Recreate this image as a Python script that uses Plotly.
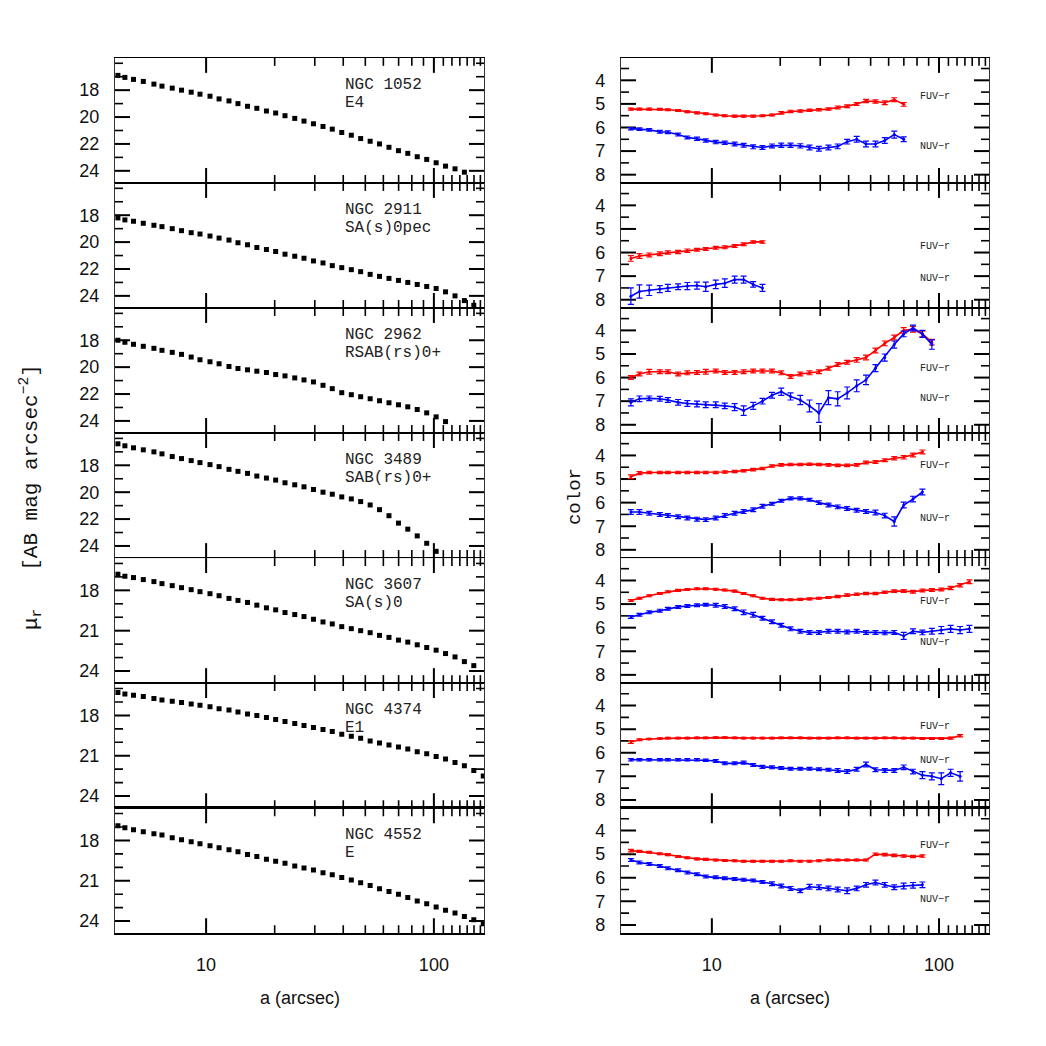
import plotly.graph_objects as go

# ---------------- data ----------------
radii = [4.1, 4.4, 4.8, 5.3, 5.9, 6.4, 7.1, 7.8, 8.6, 9.4, 10.4, 11.4, 12.6, 13.8, 15.2,
         16.7, 18.4, 20.2, 22.2, 24.5, 26.9, 29.6, 32.6, 35.8, 39.4, 43.4, 47.7, 52.5,
         57.7, 63.5, 69.9, 76.8, 84.5, 93.0, 102.3, 112.5, 123.8, 136.1, 149.7, 164.7]

galaxies = ["NGC 1052", "NGC 2911", "NGC 2962", "NGC 3489", "NGC 3607", "NGC 4374", "NGC 4552"]
morph = ["E4", "SA(s)0pec", "RSAB(rs)0+", "SAB(rs)0+", "SA(s)0", "E1", "E"]

mu_1052 = [16.9, 17.05, 17.2, 17.35, 17.55, 17.7, 17.85, 18.0, 18.15, 18.3, 18.45, 18.65, 18.8,
           19.0, 19.2, 19.35, 19.55, 19.7, 19.9, 20.1, 20.3, 20.5, 20.7, 20.9, 21.15, 21.35,
           21.6, 21.8, 22.0, 22.25, 22.5, 22.7, 22.95, 23.15, 23.4, 23.65, 23.85, 24.1]
mu_2911 = [18.2, 18.35, 18.45, 18.6, 18.75, 18.85, 19.0, 19.15, 19.3, 19.4, 19.55, 19.7, 19.85,
           20.05, 20.2, 20.4, 20.55, 20.7, 20.9, 21.05, 21.2, 21.4, 21.55, 21.75, 21.9, 22.05,
           22.2, 22.4, 22.55, 22.7, 22.85, 23.0, 23.15, 23.3, 23.45, 23.7, 24.0, 24.35, 24.7]
mu_2962 = [18.0, 18.15, 18.3, 18.45, 18.6, 18.75, 18.9, 19.05, 19.25, 19.45, 19.6, 19.75, 19.95,
           20.1, 20.2, 20.3, 20.4, 20.55, 20.65, 20.8, 20.95, 21.1, 21.35, 21.6, 21.9, 22.05,
           22.2, 22.35, 22.5, 22.65, 22.8, 22.95, 23.15, 23.4, 23.7, 24.05]
mu_3489 = [16.4, 16.55, 16.7, 16.85, 17.0, 17.15, 17.35, 17.5, 17.65, 17.8, 17.95, 18.1, 18.3,
           18.45, 18.6, 18.8, 18.95, 19.1, 19.3, 19.45, 19.6, 19.8, 20.0, 20.15, 20.35, 20.5,
           20.7, 20.95, 21.3, 21.75, 22.3, 22.75, 23.25, 23.8, 24.4]
mu_3607 = [16.8, 16.95, 17.05, 17.2, 17.35, 17.5, 17.65, 17.8, 17.95, 18.1, 18.25, 18.4, 18.6,
           18.75, 18.9, 19.1, 19.3, 19.45, 19.65, 19.8, 19.95, 20.15, 20.35, 20.5, 20.7, 20.85,
           21.0, 21.15, 21.35, 21.5, 21.7, 21.85, 22.05, 22.25, 22.45, 22.7, 22.95, 23.3, 23.6]
mu_4374 = [16.3, 16.4, 16.5, 16.6, 16.75, 16.85, 16.95, 17.05, 17.15, 17.25, 17.35, 17.5, 17.6,
           17.75, 17.9, 18.0, 18.15, 18.3, 18.45, 18.6, 18.75, 18.9, 19.05, 19.2, 19.4, 19.55,
           19.7, 19.9, 20.05, 20.2, 20.35, 20.5, 20.7, 20.85, 21.05, 21.25, 21.5, 21.75, 22.1, 22.5]
mu_4552 = [16.9, 17.05, 17.2, 17.35, 17.5, 17.6, 17.8, 17.95, 18.1, 18.25, 18.4, 18.55, 18.7,
           18.85, 19.05, 19.2, 19.4, 19.55, 19.7, 19.9, 20.05, 20.2, 20.4, 20.55, 20.75, 20.95,
           21.15, 21.35, 21.6, 21.8, 22.0, 22.25, 22.5, 22.7, 22.95, 23.2, 23.4, 23.65, 23.9, 24.2]

# colour profiles start at the second radius
fuv_1052 = [5.22, 5.22, 5.22, 5.23, 5.25, 5.28, 5.33, 5.38, 5.42, 5.47, 5.5, 5.52, 5.52, 5.52, 5.5,
            5.47, 5.38, 5.32, 5.3, 5.27, 5.25, 5.22, 5.15, 5.1, 5.0, 4.88, 4.9, 4.95, 4.82, 5.02]
fuv_err_1052 = [0.04, 0.04, 0.04, 0.04, 0.04, 0.04, 0.04, 0.04, 0.04, 0.04, 0.04, 0.04, 0.04, 0.04,
                0.04, 0.04, 0.05, 0.05, 0.05, 0.05, 0.05, 0.05, 0.06, 0.06, 0.06, 0.07, 0.07, 0.08,
                0.08, 0.08]
nuv_1052 = [6.05, 6.07, 6.1, 6.18, 6.2, 6.3, 6.42, 6.48, 6.55, 6.62, 6.65, 6.7, 6.75, 6.82, 6.85,
            6.78, 6.75, 6.75, 6.78, 6.85, 6.9, 6.85, 6.8, 6.6, 6.5, 6.7, 6.7, 6.55, 6.3, 6.5]
nuv_err_1052 = [0.05, 0.05, 0.05, 0.06, 0.06, 0.06, 0.06, 0.07, 0.07, 0.07, 0.07, 0.08, 0.08, 0.08,
                0.08, 0.08, 0.09, 0.09, 0.09, 0.1, 0.1, 0.1, 0.1, 0.1, 0.12, 0.12, 0.12, 0.12,
                0.15, 0.1]

fuv_2911 = [6.25, 6.15, 6.1, 6.05, 6.0, 5.98, 5.92, 5.88, 5.85, 5.8, 5.78, 5.72, 5.65, 5.55, 5.55]
fuv_err_2911 = [0.12, 0.1, 0.08, 0.08, 0.07, 0.07, 0.07, 0.06, 0.06, 0.06, 0.06, 0.06, 0.06, 0.05, 0.05]
nuv_2911 = [7.85, 7.65, 7.6, 7.55, 7.5, 7.45, 7.42, 7.4, 7.45, 7.35, 7.3, 7.15, 7.15, 7.35, 7.5]
nuv_err_2911 = [0.35, 0.28, 0.22, 0.15, 0.15, 0.12, 0.15, 0.15, 0.2, 0.18, 0.18, 0.15, 0.15, 0.12, 0.15]

fuv_2962 = [6.0, 5.85, 5.75, 5.75, 5.75, 5.85, 5.8, 5.78, 5.75, 5.72, 5.78, 5.78, 5.75, 5.72, 5.72,
            5.72, 5.8, 5.95, 5.85, 5.8, 5.75, 5.6, 5.45, 5.35, 5.25, 5.15, 4.85, 4.55, 4.3, 4.0,
            3.95, 4.15, 4.5]
fuv_err_2962 = [0.08, 0.08, 0.1, 0.08, 0.08, 0.08, 0.08, 0.08, 0.1, 0.08, 0.08, 0.08, 0.08, 0.08,
                0.08, 0.08, 0.08, 0.08, 0.08, 0.08, 0.08, 0.08, 0.08, 0.08, 0.1, 0.1, 0.1, 0.1,
                0.1, 0.12, 0.12, 0.12, 0.12]
nuv_2962 = [7.05, 6.9, 6.88, 6.9, 6.95, 7.05, 7.1, 7.12, 7.15, 7.15, 7.2, 7.25, 7.4, 7.2, 7.0,
            6.75, 6.6, 6.8, 6.95, 7.2, 7.5, 6.85, 6.9, 6.65, 6.35, 6.1, 5.6, 5.15, 4.6, 4.15,
            3.9, 4.15, 4.6]
nuv_err_2962 = [0.15, 0.12, 0.1, 0.1, 0.1, 0.12, 0.12, 0.12, 0.12, 0.12, 0.12, 0.15, 0.2, 0.15,
                0.12, 0.12, 0.15, 0.15, 0.2, 0.25, 0.4, 0.3, 0.3, 0.25, 0.25, 0.2, 0.15, 0.15,
                0.15, 0.12, 0.12, 0.15, 0.2]

fuv_3489 = [4.9, 4.75, 4.72, 4.72, 4.72, 4.72, 4.72, 4.72, 4.72, 4.72, 4.7, 4.68, 4.65, 4.6, 4.55,
            4.45, 4.4, 4.38, 4.38, 4.37, 4.38, 4.4, 4.42, 4.42, 4.4, 4.3, 4.28, 4.2, 4.12, 4.08,
            3.98, 3.85]
fuv_err_3489 = [0.08, 0.06, 0.05, 0.05, 0.05, 0.05, 0.05, 0.05, 0.05, 0.05, 0.05, 0.05, 0.05, 0.05,
                0.05, 0.05, 0.05, 0.05, 0.05, 0.05, 0.05, 0.05, 0.05, 0.05, 0.05, 0.06, 0.06, 0.06,
                0.07, 0.07, 0.08, 0.08]
nuv_3489 = [6.4, 6.4, 6.45, 6.5, 6.55, 6.6, 6.65, 6.7, 6.72, 6.65, 6.55, 6.45, 6.38, 6.3, 6.15,
            6.05, 5.92, 5.82, 5.82, 5.88, 6.0, 6.1, 6.18, 6.25, 6.32, 6.38, 6.42, 6.55, 6.8, 6.1,
            5.85, 5.55]
nuv_err_3489 = [0.1, 0.1, 0.08, 0.08, 0.08, 0.08, 0.08, 0.08, 0.08, 0.08, 0.08, 0.08, 0.08, 0.08,
                0.08, 0.06, 0.06, 0.06, 0.06, 0.06, 0.08, 0.08, 0.08, 0.08, 0.08, 0.08, 0.1, 0.1,
                0.2, 0.12, 0.12, 0.12]

fuv_3607 = [4.85, 4.75, 4.65, 4.55, 4.48, 4.42, 4.38, 4.35, 4.35, 4.37, 4.4, 4.45, 4.55, 4.65,
            4.75, 4.8, 4.82, 4.82, 4.8, 4.78, 4.75, 4.72, 4.68, 4.62, 4.58, 4.55, 4.55, 4.5, 4.45,
            4.45, 4.48, 4.42, 4.4, 4.38, 4.32, 4.2, 4.05]
fuv_err_3607 = [0.04, 0.04, 0.04, 0.04, 0.04, 0.04, 0.04, 0.04, 0.04, 0.04, 0.04, 0.04, 0.04, 0.04,
                0.04, 0.04, 0.04, 0.04, 0.04, 0.04, 0.04, 0.04, 0.05, 0.05, 0.05, 0.05, 0.05, 0.05,
                0.05, 0.06, 0.06, 0.06, 0.06, 0.06, 0.07, 0.07, 0.08]
nuv_3607 = [5.55, 5.45, 5.35, 5.28, 5.2, 5.12, 5.08, 5.05, 5.03, 5.05, 5.1, 5.2, 5.35, 5.45, 5.6,
            5.75, 5.9, 6.05, 6.15, 6.2, 6.2, 6.15, 6.15, 6.18, 6.15, 6.2, 6.2, 6.22, 6.2, 6.35,
            6.15, 6.2, 6.15, 6.1, 6.05, 6.1, 6.05]
nuv_err_3607 = [0.06, 0.06, 0.06, 0.06, 0.06, 0.06, 0.06, 0.06, 0.06, 0.08, 0.08, 0.08, 0.1, 0.1,
                0.08, 0.08, 0.08, 0.08, 0.08, 0.08, 0.08, 0.08, 0.08, 0.08, 0.08, 0.08, 0.08, 0.08,
                0.08, 0.15, 0.1, 0.1, 0.12, 0.15, 0.15, 0.15, 0.15]

fuv_4374 = [5.55, 5.45, 5.42, 5.4, 5.38, 5.38, 5.38, 5.37, 5.37, 5.36, 5.36, 5.37, 5.38, 5.38, 5.38,
            5.38, 5.37, 5.37, 5.37, 5.38, 5.38, 5.38, 5.37, 5.37, 5.38, 5.38, 5.38, 5.37, 5.37,
            5.38, 5.38, 5.4, 5.4, 5.4, 5.38, 5.28]
fuv_err_4374 = [0.06, 0.04, 0.03, 0.03, 0.03, 0.03, 0.03, 0.03, 0.03, 0.03, 0.03, 0.03, 0.03, 0.03,
                0.03, 0.03, 0.03, 0.03, 0.03, 0.03, 0.03, 0.03, 0.03, 0.03, 0.03, 0.03, 0.03, 0.03,
                0.03, 0.03, 0.03, 0.04, 0.04, 0.04, 0.04, 0.05]
nuv_4374 = [6.3, 6.3, 6.3, 6.3, 6.3, 6.3, 6.3, 6.3, 6.32, 6.35, 6.45, 6.45, 6.42, 6.52, 6.6, 6.62,
            6.65, 6.68, 6.68, 6.68, 6.7, 6.72, 6.75, 6.8, 6.7, 6.5, 6.72, 6.75, 6.75, 6.62, 6.8,
            6.95, 7.0, 7.1, 6.85, 7.0]
nuv_err_4374 = [0.05, 0.05, 0.05, 0.05, 0.05, 0.05, 0.05, 0.05, 0.05, 0.06, 0.06, 0.06, 0.06, 0.06,
                0.06, 0.06, 0.06, 0.06, 0.06, 0.06, 0.06, 0.06, 0.08, 0.08, 0.08, 0.1, 0.08, 0.08,
                0.08, 0.1, 0.1, 0.15, 0.15, 0.25, 0.15, 0.2]

fuv_4552 = [4.85, 4.88, 4.92, 4.98, 5.02, 5.1, 5.15, 5.2, 5.22, 5.25, 5.27, 5.28, 5.3, 5.3, 5.3,
            5.3, 5.3, 5.28, 5.3, 5.3, 5.28, 5.25, 5.25, 5.25, 5.25, 5.25, 5.0, 5.02, 5.05, 5.08,
            5.1, 5.08]
fuv_err_4552 = [0.05, 0.04, 0.04, 0.04, 0.04, 0.04, 0.04, 0.04, 0.04, 0.04, 0.04, 0.04, 0.04, 0.04,
                0.04, 0.04, 0.04, 0.04, 0.04, 0.04, 0.04, 0.04, 0.04, 0.04, 0.04, 0.04, 0.05, 0.05,
                0.05, 0.05, 0.05, 0.05]
nuv_4552 = [5.25, 5.35, 5.42, 5.5, 5.6, 5.68, 5.78, 5.85, 5.95, 5.98, 6.02, 6.05, 6.08, 6.12, 6.18,
            6.25, 6.35, 6.45, 6.55, 6.38, 6.4, 6.45, 6.5, 6.55, 6.45, 6.3, 6.2, 6.3, 6.4, 6.35,
            6.32, 6.3]
nuv_err_4552 = [0.06, 0.06, 0.06, 0.06, 0.06, 0.06, 0.06, 0.06, 0.06, 0.06, 0.06, 0.06, 0.06, 0.06,
                0.06, 0.08, 0.08, 0.08, 0.08, 0.1, 0.1, 0.1, 0.1, 0.12, 0.1, 0.1, 0.1, 0.1, 0.1,
                0.12, 0.12, 0.12]

mu_profiles = [mu_1052, mu_2911, mu_2962, mu_3489, mu_3607, mu_4374, mu_4552]
fuv_profiles = [fuv_1052, fuv_2911, fuv_2962, fuv_3489, fuv_3607, fuv_4374, fuv_4552]
fuv_errors = [fuv_err_1052, fuv_err_2911, fuv_err_2962, fuv_err_3489, fuv_err_3607, fuv_err_4374, fuv_err_4552]
nuv_profiles = [nuv_1052, nuv_2911, nuv_2962, nuv_3489, nuv_3607, nuv_4374, nuv_4552]
nuv_errors = [nuv_err_1052, nuv_err_2911, nuv_err_2962, nuv_err_3489, nuv_err_3607, nuv_err_4374, nuv_err_4552]

# label heights (colour units) for FUV-r / NUV-r tags
fuv_label_y = [4.7, 5.74, 5.6, 4.42, 4.9, 4.91, 4.62]
nuv_label_y = [6.8, 7.1, 6.9, 6.67, 6.64, 6.32, 6.92]

mu_ticks_a = [18, 20, 22, 24]
mu_minor_a = [16, 17, 19, 21, 23]
mu_ticks_b = [18, 21, 24]
mu_minor_b = [16, 17, 19, 20, 22, 23]
color_ticks = [4, 5, 6, 7, 8]
color_minor = [3.5, 4.5, 5.5, 6.5, 7.5]
x_major = [10, 100]
x_minor = [20, 30, 40, 50, 60, 70, 80, 90, 110, 120, 130, 140, 150, 160]

# ---------------- layout geometry (pixels) ----------------
W = H = 1046
LX0, LX1 = 115, 484
RX0, RX1 = 621, 989
TOP, BOT = 58, 935
NROW = 7
ROWH = (BOT - TOP) / NROW
XLOG = [0.6, 2.22]
MU_RANGE = [24.9, 15.6]
COLOR_RANGE = [8.35, 3.05]

AX = "#000000"
FONT_SANS = "Liberation Sans"
FONT_MONO = "Liberation Mono"


def px_x(p):
    return p / W


def px_y(p):
    return 1 - p / H


def axkey(prefix, n):
    return f"{prefix}axis" if n == 1 else f"{prefix}axis{n}"


def axref(prefix, n):
    return prefix if n == 1 else f"{prefix}{n}"


def tick_trace(xa, ya, yrange, width_px, xvals, yvals, length, lw):
    """Inside tick marks drawn as line segments (bottom/top and left/right)."""
    per_px_y = (yrange[0] - yrange[1]) / ROWH       # data units per pixel (y)
    per_px_x = (XLOG[1] - XLOG[0]) / width_px        # decades per pixel (x)
    xs, ys = [], []
    for v in xvals:
        xs += [v, v, None, v, v, None]
        ys += [yrange[0], yrange[0] - length * per_px_y, None,
               yrange[1], yrange[1] + length * per_px_y, None]
    xl0, xl1 = 10 ** XLOG[0], 10 ** (XLOG[0] + length * per_px_x)
    xr0, xr1 = 10 ** XLOG[1], 10 ** (XLOG[1] - length * per_px_x)
    for v in yvals:
        xs += [xl0, xl1, None, xr0, xr1, None]
        ys += [v, v, None, v, v, None]
    return go.Scatter(x=xs, y=ys, xaxis=xa, yaxis=ya, mode="lines",
                      line=dict(color=AX, width=lw), showlegend=False,
                      hoverinfo="skip", connectgaps=False)


fig = go.Figure()
layout = {}
annotations = []

for i in range(NROW):
    top_px = TOP + i * ROWH
    bot_px = top_px + ROWH
    ydom = [px_y(bot_px), px_y(top_px)]
    for side in (0, 1):
        n = 2 * i + 1 + side
        xa, ya = axref("x", n), axref("y", n)
        xdom = [px_x(LX0), px_x(LX1)] if side == 0 else [px_x(RX0), px_x(RX1)]
        width_px = (LX1 - LX0) if side == 0 else (RX1 - RX0)
        bottom_row = (i == NROW - 1)
        layout[axkey("x", n)] = dict(
            type="log", range=XLOG, domain=xdom, anchor=ya,
            showline=True, linecolor=AX, linewidth=1.5 if bottom_row else 1.0,
            mirror=True, ticks="",
            tickvals=x_major, showticklabels=bottom_row,
            tickfont=dict(family=FONT_SANS, size=18, color="#111"),
            ticklabelstandoff=14,
            showgrid=False, zeroline=False,
        )
        if side == 0:
            tv = mu_ticks_a if i < 4 else mu_ticks_b
            mv = mu_minor_a if i < 4 else mu_minor_b
            yrange = MU_RANGE
        else:
            tv = color_ticks
            mv = color_minor
            yrange = COLOR_RANGE
        layout[axkey("y", n)] = dict(
            range=yrange, domain=ydom, anchor=xa,
            showline=True, linecolor="#333", linewidth=1.2,
            mirror=True, ticks="",
            tickvals=tv,
            tickfont=dict(family=FONT_SANS, size=18, color="#111"),
            ticklabelstandoff=11,
            showgrid=False, zeroline=False,
        )

        # tick marks (major + minor), inside on all four sides
        fig.add_trace(tick_trace(xa, ya, yrange, width_px, x_major, tv, 15, 2.0))
        fig.add_trace(tick_trace(xa, ya, yrange, width_px, x_minor, mv, 8, 1.6))

        if side == 0:
            mu = mu_profiles[i]
            fig.add_trace(go.Scatter(
                x=radii[:len(mu)], y=mu, xaxis=xa, yaxis=ya, mode="markers",
                marker=dict(symbol="square", size=5, color="black"),
                showlegend=False, hoverinfo="skip"))
            for txt, off in ((galaxies[i], 27), (morph[i], 45)):
                annotations.append(dict(
                    text=txt, xref=f"{xa} domain", yref=f"{ya} domain",
                    x=(343 - LX0) / (LX1 - LX0), y=1 - off / ROWH,
                    xanchor="left", yanchor="middle", showarrow=False,
                    font=dict(family=FONT_MONO, size=16, color="#222")))
        else:
            f, fe = fuv_profiles[i], fuv_errors[i]
            nv, ne = nuv_profiles[i], nuv_errors[i]
            fig.add_trace(go.Scatter(
                x=radii[1:1 + len(f)], y=f, xaxis=xa, yaxis=ya, mode="lines+markers",
                line=dict(color="#ff0000", width=1.6), marker=dict(size=3, color="#ff0000"),
                error_y=dict(type="data", array=fe, color="#ff0000", thickness=1.2, width=3),
                showlegend=False, hoverinfo="skip"))
            fig.add_trace(go.Scatter(
                x=radii[1:1 + len(nv)], y=nv, xaxis=xa, yaxis=ya, mode="lines+markers",
                line=dict(color="#0000ff", width=1.6), marker=dict(size=3, color="#0000ff"),
                error_y=dict(type="data", array=ne, color="#0000ff", thickness=1.2, width=3),
                showlegend=False, hoverinfo="skip"))
            lx = (918 - RX0) / (RX1 - RX0)
            for txt, yy in (("FUV\u2212r", fuv_label_y[i]), ("NUV\u2212r", nuv_label_y[i])):
                annotations.append(dict(
                    text=txt, xref=f"{xa} domain", yref=ya, x=lx, y=yy,
                    xanchor="left", yanchor="middle", showarrow=False,
                    font=dict(family=FONT_MONO, size=10, color="#222")))

# axis titles
annotations.append(dict(
    text="\u03bc<sub>r</sub>   [AB mag arcsec<sup>\u22122</sup>]", xref="paper", yref="paper",
    x=px_x(30), y=px_y(498), xanchor="center", yanchor="middle", textangle=-90,
    showarrow=False, font=dict(family=FONT_MONO, size=21, color="#111")))
annotations.append(dict(
    text="color", xref="paper", yref="paper", x=px_x(575), y=px_y(498),
    xanchor="center", yanchor="middle", textangle=-90, showarrow=False,
    font=dict(family=FONT_MONO, size=19, color="#111")))
for cx in (300, 790):
    annotations.append(dict(
        text="a (arcsec)", xref="paper", yref="paper", x=px_x(cx), y=px_y(1000),
        xanchor="center", yanchor="middle", showarrow=False,
        font=dict(family=FONT_SANS, size=18, color="#111")))

fig.update_layout(
    width=W, height=H, margin=dict(l=0, r=0, t=0, b=0),
    paper_bgcolor="white", plot_bgcolor="white",
    showlegend=False, annotations=annotations, **layout)

fig.write_html("out.html", config={"displayModeBar": False},
               post_script="document.body.style.margin='0px';")
